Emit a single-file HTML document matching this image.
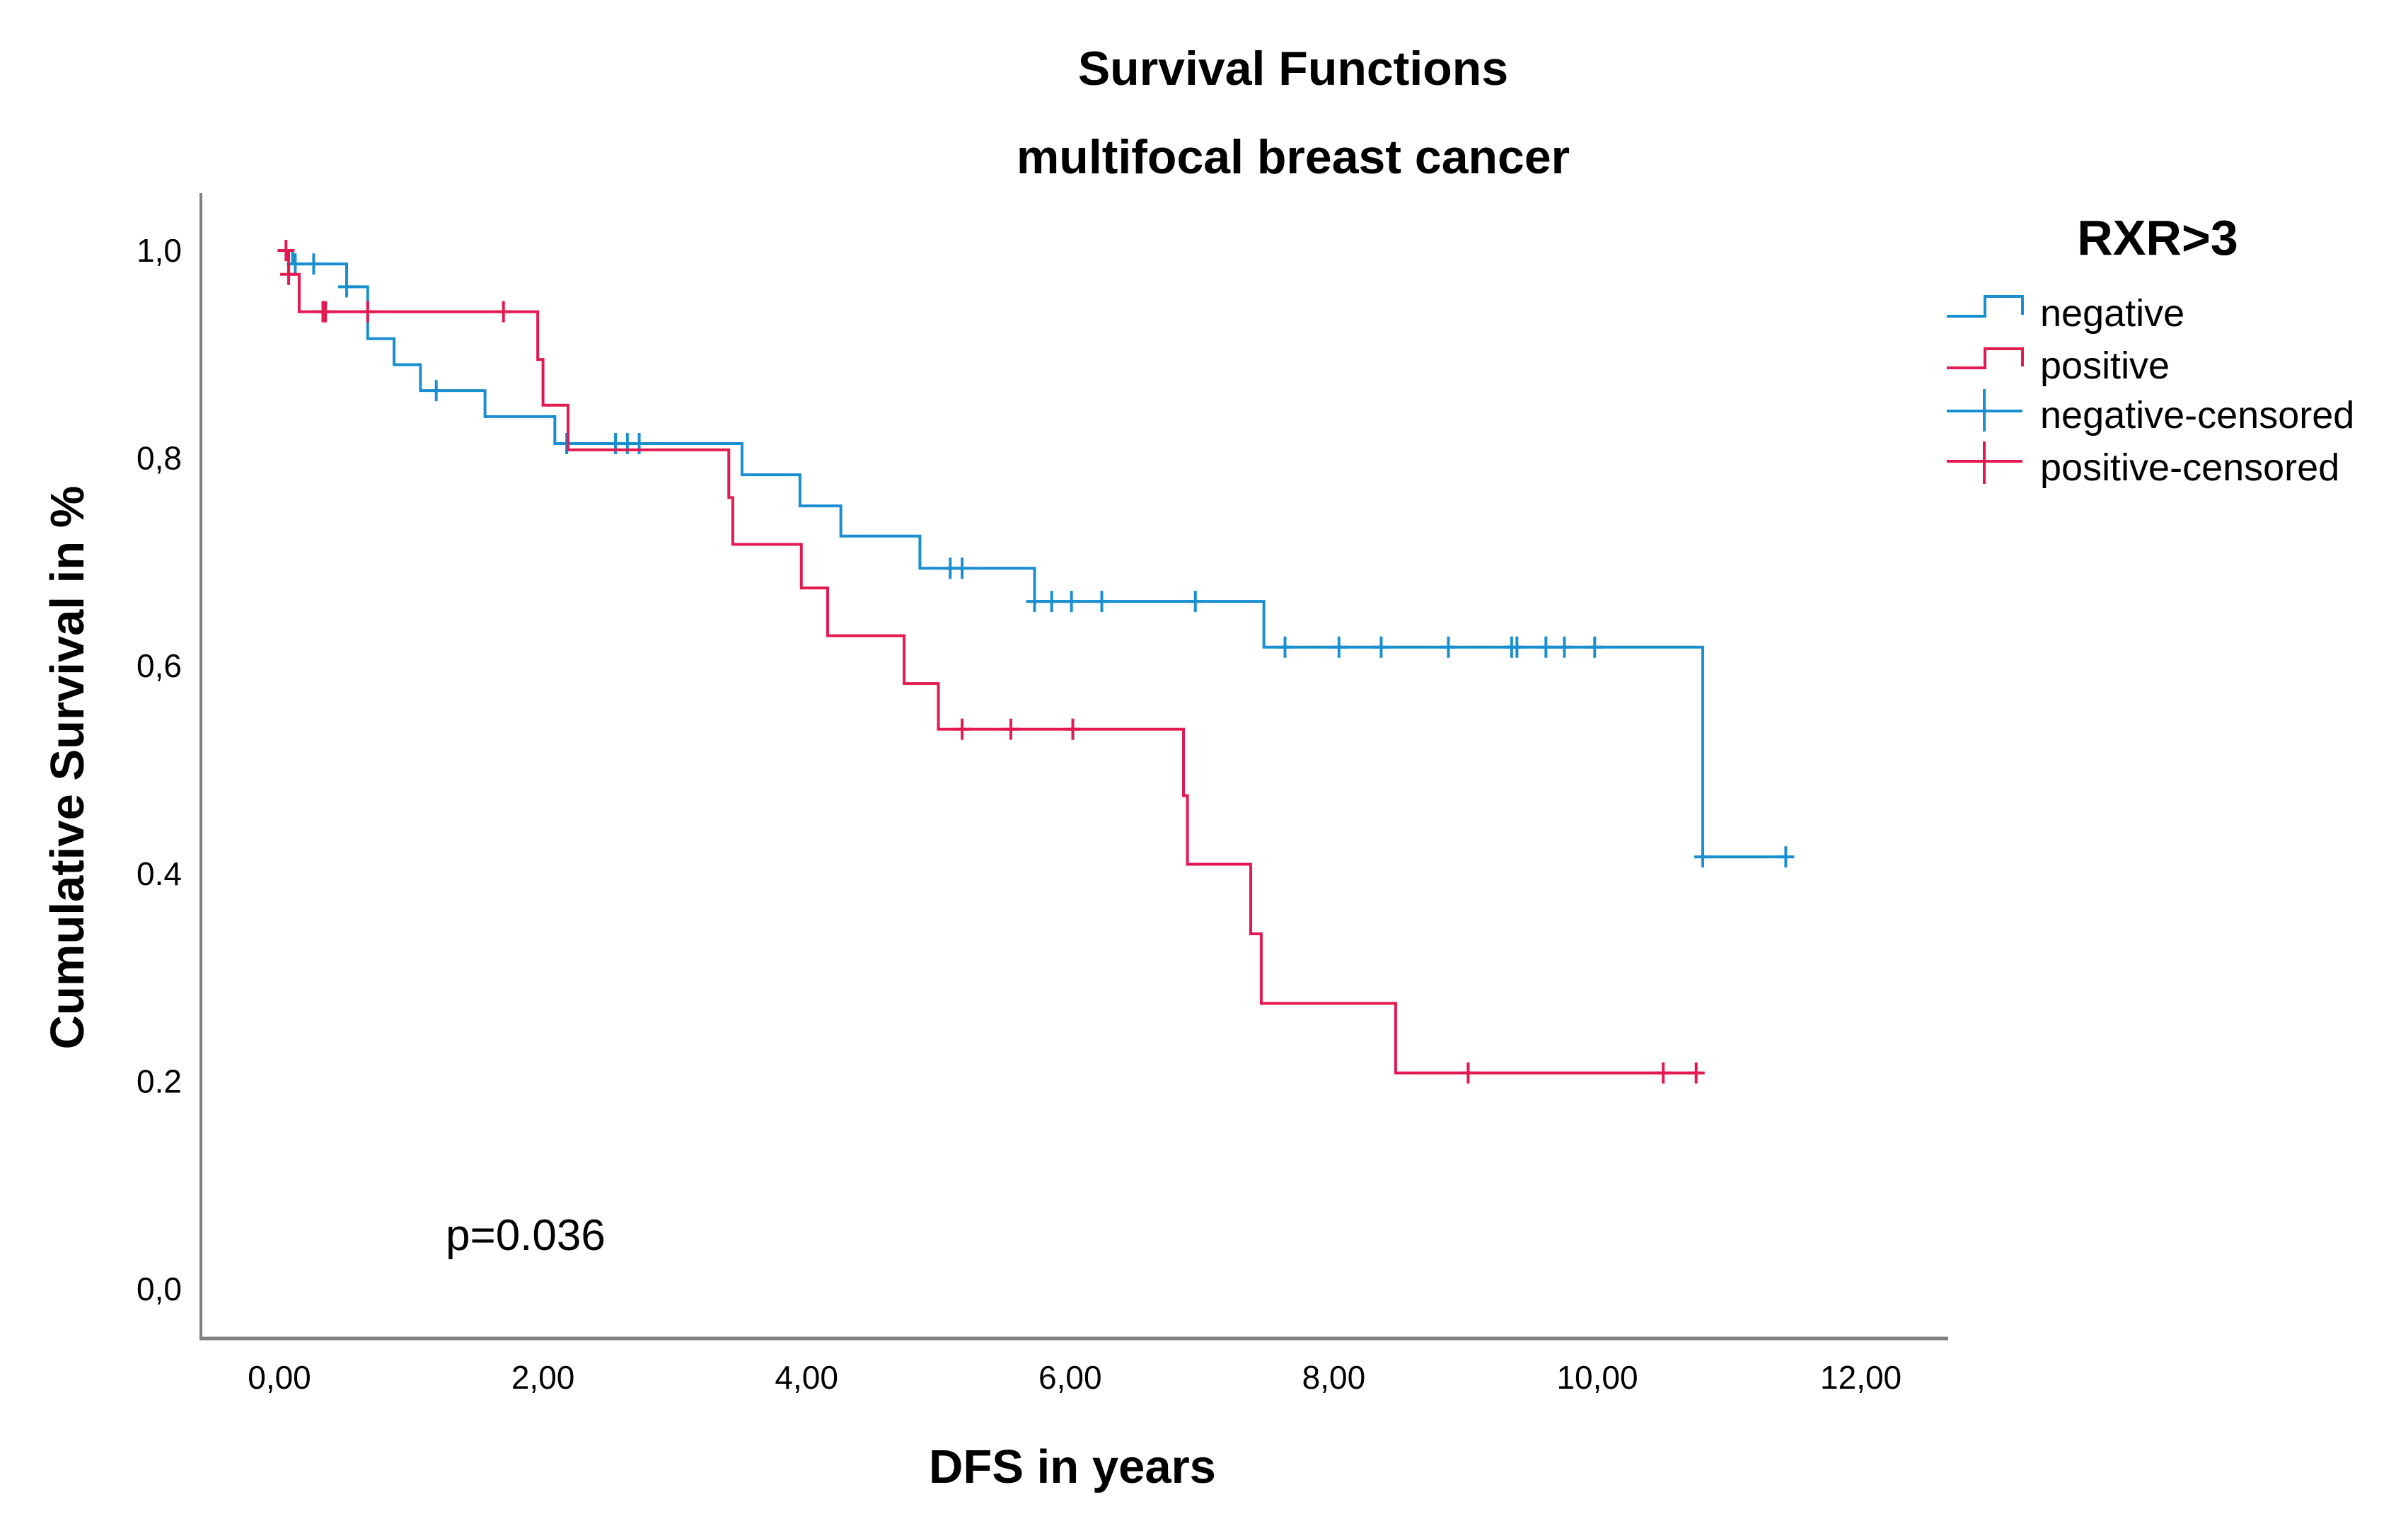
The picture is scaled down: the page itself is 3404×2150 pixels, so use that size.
<!DOCTYPE html>
<html><head><meta charset="utf-8"><style>
html,body{margin:0;padding:0;background:#fff;}
svg{display:block;}
text{font-family:"Liberation Sans",Arial,sans-serif;fill:#000;}
</style></head><body>
<svg id="chart" width="3404" height="2150" viewBox="0 0 3404 2150" xmlns="http://www.w3.org/2000/svg">
<text x="1828" y="120" font-size="68" font-weight="bold" text-anchor="middle">Survival Functions</text>
<text x="1828" y="245" font-size="68" font-weight="bold" text-anchor="middle">multifocal breast cancer</text>
<line x1="284" y1="273" x2="284" y2="1892" stroke="#808080" stroke-width="4"/>
<line x1="282" y1="1892" x2="2754" y2="1892" stroke="#808080" stroke-width="5"/>
<g id="yticks"></g>
<g id="xticks"></g>
<text transform="translate(118,1085) rotate(-90)" font-size="67" font-weight="bold" text-anchor="middle">Cumulative Survival in %</text>
<text x="1516" y="2096" font-size="67" font-weight="bold" text-anchor="middle">DFS in years</text>
<text x="630" y="1767" font-size="62">p=0.036</text>
<g id="series"></g>
<g>
<text x="3050" y="360" font-size="70" font-weight="bold" text-anchor="middle">RXR&gt;3</text>
<g>
<polyline points="2752,447 2806,447 2806,419 2859,419 2859,445" fill="none" stroke="#1a8fd0" stroke-width="4"/>
<text x="2884" y="461" font-size="54">negative</text>
</g>
<g>
<polyline points="2752,520 2806,520 2806,493 2859,493 2859,518" fill="none" stroke="#e31a52" stroke-width="4"/>
<text x="2884" y="535" font-size="54">positive</text>
</g>
<g>
<path d="M2752,581 H2859 M2805,550 V610" fill="none" stroke="#1a8fd0" stroke-width="4"/>
<text x="2884" y="605" font-size="54">negative-censored</text>
</g>
<g>
<path d="M2752,652 H2859 M2805,624 V684" fill="none" stroke="#e31a52" stroke-width="4"/>
<text x="2884" y="679" font-size="54">positive-censored</text>
</g>
</g>
</svg>
<script>
// data
const xTickValues = [0, 2, 4, 6, 8, 10, 12];
const xTickLabels = ["0,00", "2,00", "4,00", "6,00", "8,00", "10,00", "12,00"];
const yTickValues = [0, 0.2, 0.4, 0.6, 0.8, 1.0];
const yTickLabels = ["0,0", "0.2", "0.4", "0,6", "0,8", "1,0"];
const negEventTimes = [0.10, 0.51, 0.67, 0.87, 1.07, 1.56, 2.09, 3.51, 3.95, 4.26, 4.86, 5.73, 7.47, 10.80];
const negSurvival = [0.987, 0.965, 0.915, 0.89, 0.865, 0.84, 0.814, 0.784, 0.754, 0.725, 0.694, 0.662, 0.618, 0.416];
const negEndTime = 11.45;
const negCensored = [0.12, 0.26, 0.51, 1.19, 2.18, 2.55, 2.64, 2.73, 5.09, 5.18, 5.73, 5.86, 6.01, 6.24, 6.95, 7.63, 8.04, 8.36, 8.87, 9.35, 9.39, 9.61, 9.75, 9.98, 10.80, 11.43];
const posEventTimes = [0.07, 0.15, 1.96, 2.00, 2.19, 3.41, 3.44, 3.96, 4.16, 4.74, 5.00, 6.86, 6.89, 7.37, 7.45, 8.47];
const posSurvival = [0.977, 0.941, 0.895, 0.851, 0.808, 0.762, 0.717, 0.675, 0.629, 0.583, 0.539, 0.475, 0.409, 0.342, 0.275, 0.208];
const posEndTime = 10.78;
const posCensored = [0.05, 0.07, 0.33, 0.35, 0.67, 1.70, 5.18, 5.55, 6.02, 9.02, 10.50, 10.75];

const NS = "http://www.w3.org/2000/svg";
const xs = t => 395 + t * 186.3;
const ys = s => 1822 - s * 1468;

const yt = document.getElementById('yticks');
yTickValues.forEach((v, i) => {
  const el = document.createElementNS(NS, 'text');
  
  
  el.setAttribute('x', 257); el.setAttribute('y', ys(v) + 16);
  el.setAttribute('font-size', '46'); el.setAttribute('text-anchor', 'end');
  el.textContent = yTickLabels[i];
  yt.appendChild(el);
});
const xt = document.getElementById('xticks');
xTickValues.forEach((v, i) => {
  const el = document.createElementNS(NS, 'text');
  
  
  el.setAttribute('x', xs(v)); el.setAttribute('y', 1963);
  el.setAttribute('font-size', '46'); el.setAttribute('text-anchor', 'middle');
  el.textContent = xTickLabels[i];
  xt.appendChild(el);
});

function survAt(times, surv, t) {
  let s = 1;
  for (let i = 0; i < times.length; i++) if (times[i] <= t) s = surv[i];
  return s;
}
const g = document.getElementById('series');
function drawSeries(times, surv, end, cens, color, name) {
  let d = 'M' + xs(0) + ',' + ys(1);
  times.forEach((t, i) => {
    d += ' H' + xs(t) + ' V' + ys(surv[i]);
  });
  d += ' H' + xs(end);
  const p = document.createElementNS(NS, 'path');
  
  
  p.setAttribute('d', d);
  p.setAttribute('fill', 'none'); p.setAttribute('stroke', color); p.setAttribute('stroke-width', '4');
  g.appendChild(p);
  cens.forEach(t => {
    const sv = survAt(times, surv, t);
    const m = document.createElementNS(NS, 'path');
    
    
    const x = xs(t), y = ys(sv);
    m.setAttribute('d', 'M' + (x - 12) + ',' + y + ' H' + (x + 12) + ' M' + x + ',' + (y - 15) + ' V' + (y + 15));
    m.setAttribute('fill', 'none'); m.setAttribute('stroke', color); m.setAttribute('stroke-width', '4');
    g.appendChild(m);
  });
}
drawSeries(negEventTimes, negSurvival, negEndTime, negCensored, '#1a8fd0', 'negative');
drawSeries(posEventTimes, posSurvival, posEndTime, posCensored, '#e31a52', 'positive');
</script>
</body></html>
